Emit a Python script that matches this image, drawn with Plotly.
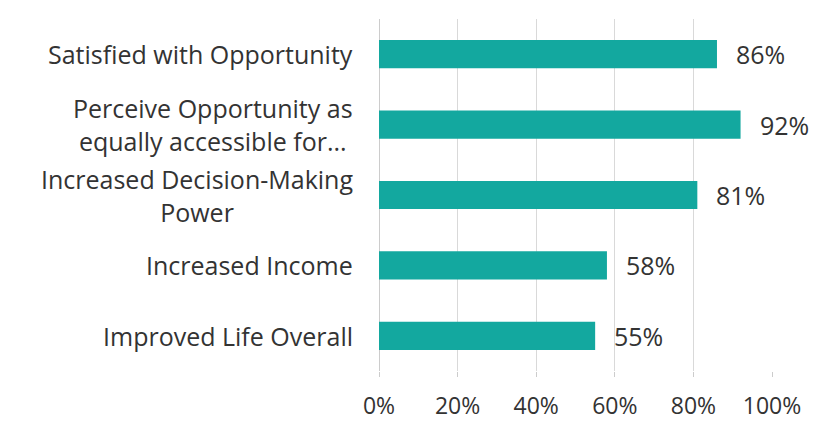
import plotly.graph_objects as go

categories = [
    "Satisfied with Opportunity",
    "Perceive Opportunity as<br>equally accessible for...",
    "Increased Decision-Making<br>Power",
    "Increased Income",
    "Improved Life Overall",
]
values = [86, 92, 81, 58, 55]
tick_vals = [0, 20, 40, 60, 80, 100]
tick_text = ["0%", "20%", "40%", "60%", "80%", "100%"]

FONT = "Open Sans"
SIZE = 25
TEXT = "#333333"
TEAL = "#13a89f"

fig = go.Figure(go.Bar(
    x=values, y=categories, orientation="h",
    marker=dict(color=TEAL, line=dict(width=0)),
    width=0.4,
))

ann = []
for c, v in zip(categories, values):
    ann.append(dict(x=v, y=c, xref="x", yref="y", text=f"{v}%", showarrow=False,
                    xanchor="left", xshift=17, font=dict(family=FONT, size=SIZE, color=TEXT)))
    ann.append(dict(x=0, y=c, xref="paper", yref="y", text=c, showarrow=False,
                    xanchor="right", xshift=-24, align="center",
                    font=dict(family=FONT, size=SIZE, color=TEXT)))

fig.update_layout(
    width=817, height=421,
    margin=dict(l=379, r=45, t=19, b=50, autoexpand=False),
    paper_bgcolor="white", plot_bgcolor="white",
    showlegend=False,
    annotations=ann,
    xaxis=dict(range=[0, 100], tickvals=tick_vals, ticktext=tick_text,
               showgrid=True, gridcolor="#d9d9d9", gridwidth=1,
               zeroline=True, zerolinecolor="#cccccc", zerolinewidth=1,
               ticks="outside", ticklen=5, tickcolor="#cccccc",
               ticklabelstandoff=9, automargin=False,
               tickfont=dict(family=FONT, size=23, color=TEXT), fixedrange=True),
    yaxis=dict(categoryorder="array", categoryarray=categories, autorange="reversed",
               showticklabels=False, showgrid=False, zeroline=False, fixedrange=True,
               automargin=False),
)

fig.write_html("out.html")
